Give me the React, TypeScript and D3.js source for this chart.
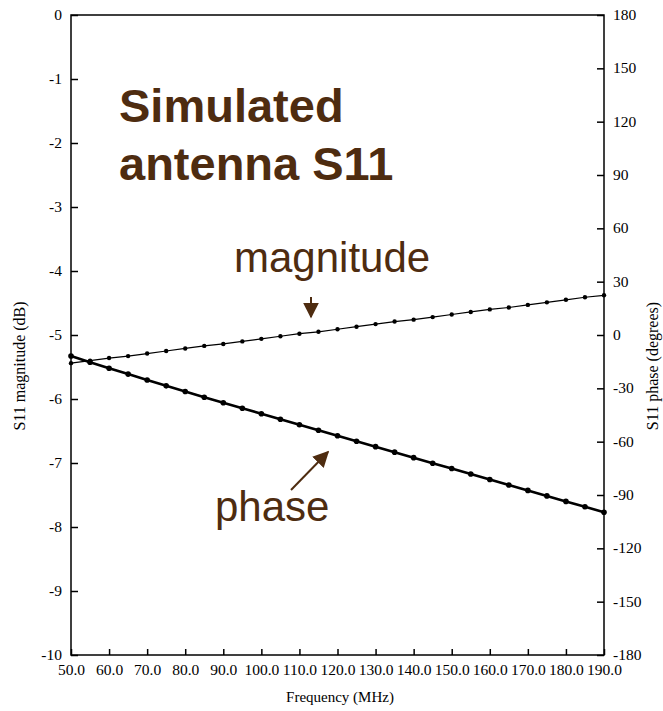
import { useEffect, useRef } from "react";
import * as d3 from "d3";

// frequency points (MHz)
const freqs = [50, 55, 60, 65, 70, 75, 80, 85, 90, 95, 100, 105, 110, 115, 120, 125, 130, 135, 140, 145, 150, 155, 160, 165, 170, 175, 180, 185, 190];

// S11 magnitude (dB)
const magnitude = [-5.44, -5.4, -5.36, -5.33, -5.29, -5.25, -5.21, -5.17, -5.14, -5.1, -5.06, -5.02, -4.98, -4.95, -4.91, -4.87, -4.83, -4.79, -4.76, -4.72, -4.68, -4.64, -4.6, -4.57, -4.53, -4.49, -4.45, -4.41, -4.38];

// S11 phase (degrees)
const phase = [-11.8, -15.3, -18.7, -22.0, -25.3, -28.6, -31.8, -35.0, -38.1, -41.2, -44.3, -47.4, -50.5, -53.6, -56.7, -59.8, -62.8, -65.9, -69.0, -72.1, -75.1, -78.2, -81.3, -84.4, -87.4, -90.5, -93.6, -96.6, -99.7];

const freqTicks = [50, 60, 70, 80, 90, 100, 110, 120, 130, 140, 150, 160, 170, 180, 190];
const magTicks = [0, -1, -2, -3, -4, -5, -6, -7, -8, -9, -10];
const phaseTicks = [180, 150, 120, 90, 60, 30, 0, -30, -60, -90, -120, -150, -180];

const W = 663;
const H = 711;
const margin = { top: 15, right: 59, bottom: 56, left: 71 };
const brown = "#4e2c10";
const serif = "'Liberation Serif', 'Times New Roman', serif";
const sans = "'Liberation Sans', Arial, sans-serif";

export default function App() {
  const ref = useRef<SVGSVGElement | null>(null);

  useEffect(() => {
    if (!ref.current) return;
    const svg = d3.select(ref.current);
    svg.selectAll("*").remove();

    const x = d3.scaleLinear().domain([50, 190]).range([margin.left, W - margin.right]);
    const yMag = d3.scaleLinear().domain([-10, 0]).range([H - margin.bottom, margin.top]);
    const yPh = d3.scaleLinear().domain([-180, 180]).range([H - margin.bottom, margin.top]);

    const defs = svg.append("defs");
    defs
      .append("marker")
      .attr("id", "head")
      .attr("viewBox", "0 0 10 10")
      .attr("refX", 9)
      .attr("refY", 5)
      .attr("markerWidth", 16)
      .attr("markerHeight", 16)
      .attr("markerUnits", "userSpaceOnUse")
      .attr("orient", "auto")
      .append("path")
      .attr("d", "M0,0 L10,5 L0,10 Z")
      .attr("fill", brown);

    // frame
    svg
      .append("rect")
      .attr("x", margin.left)
      .attr("y", margin.top)
      .attr("width", W - margin.left - margin.right)
      .attr("height", H - margin.top - margin.bottom)
      .attr("fill", "none")
      .attr("stroke", "#000")
      .attr("stroke-width", 1.5);

    const styleAxis = (g: any) => {
      g.select(".domain").remove();
      g.selectAll("line").attr("stroke", "#000").attr("stroke-width", 1.5);
      g.selectAll("text")
        .attr("fill", "#000")
        .style("font-family", serif)
        .style("font-size", "15.5px");
    };

    svg
      .append("g")
      .attr("transform", `translate(${margin.left},0)`)
      .call(d3.axisLeft(yMag).tickValues(magTicks).tickSize(-7).tickPadding(9).tickFormat((d: any) => `${d}`))
      .call(styleAxis)
      .selectAll("text")
      .attr("dy", "0.3em");

    svg
      .append("g")
      .attr("transform", `translate(${W - margin.right},0)`)
      .call(d3.axisRight(yPh).tickValues(phaseTicks).tickSize(-7).tickPadding(9).tickFormat((d: any) => `${d}`))
      .call(styleAxis)
      .selectAll("text")
      .attr("dy", "0.3em");

    svg
      .append("g")
      .attr("transform", `translate(0,${H - margin.bottom})`)
      .call(d3.axisBottom(x).tickValues(freqTicks).tickSize(-6).tickPadding(9).tickFormat(d3.format(".1f") as any))
      .call(styleAxis);

    // axis titles
    svg
      .append("text")
      .attr("transform", `translate(25,366) rotate(-90)`)
      .attr("text-anchor", "middle")
      .style("font-family", serif)
      .style("font-size", "16px")
      .text("S11 magnitude (dB)");
    svg
      .append("text")
      .attr("transform", `translate(658,366) rotate(-90)`)
      .attr("text-anchor", "middle")
      .style("font-family", serif)
      .style("font-size", "16px")
      .text("S11 phase (degrees)");
    svg
      .append("text")
      .attr("x", 340)
      .attr("y", 702)
      .attr("text-anchor", "middle")
      .style("font-family", serif)
      .style("font-size", "15px")
      .text("Frequency (MHz)");

    // magnitude series
    const magLine = d3
      .line<number>()
      .x((_, i) => x(freqs[i]))
      .y((d) => yMag(d));
    svg
      .append("path")
      .datum(magnitude)
      .attr("d", magLine)
      .attr("fill", "none")
      .attr("stroke", "#000")
      .attr("stroke-width", 1.2);
    svg
      .append("g")
      .selectAll("circle")
      .data(magnitude)
      .join("circle")
      .attr("cx", (_, i) => x(freqs[i]))
      .attr("cy", (d) => yMag(d))
      .attr("r", 2.2)
      .attr("fill", "#000");

    // phase series
    const phLine = d3
      .line<number>()
      .x((_, i) => x(freqs[i]))
      .y((d) => yPh(d));
    svg
      .append("path")
      .datum(phase)
      .attr("d", phLine)
      .attr("fill", "none")
      .attr("stroke", "#000")
      .attr("stroke-width", 2.6);
    svg
      .append("g")
      .selectAll("circle")
      .data(phase)
      .join("circle")
      .attr("cx", (_, i) => x(freqs[i]))
      .attr("cy", (d) => yPh(d))
      .attr("r", 2.8)
      .attr("fill", "#000");

    // annotations
    const title = svg
      .append("text")
      .attr("fill", brown)
      .style("font-family", sans)
      .style("font-weight", "bold")
      .style("font-size", "47px");
    title.append("tspan").attr("x", 119).attr("y", 122).text("Simulated");
    title.append("tspan").attr("x", 119).attr("y", 180).text("antenna S11");

    svg
      .append("text")
      .attr("x", 234)
      .attr("y", 272)
      .attr("fill", brown)
      .style("font-family", sans)
      .style("font-size", "42px")
      .text("magnitude");
    svg
      .append("line")
      .attr("x1", 311)
      .attr("y1", 297)
      .attr("x2", 311)
      .attr("y2", 317)
      .attr("stroke", brown)
      .attr("stroke-width", 2)
      .attr("marker-end", "url(#head)");

    svg
      .append("text")
      .attr("x", 215)
      .attr("y", 521)
      .attr("fill", brown)
      .style("font-family", sans)
      .style("font-size", "42px")
      .text("phase");
    svg
      .append("line")
      .attr("x1", 291)
      .attr("y1", 490)
      .attr("x2", 328)
      .attr("y2", 452)
      .attr("stroke", brown)
      .attr("stroke-width", 2)
      .attr("marker-end", "url(#head)");
  }, []);

  return (
    <svg
      ref={ref}
      width={W}
      height={H}
      style={{ position: "absolute", left: 0, top: 0, background: "#fff" }}
    />
  );
}
